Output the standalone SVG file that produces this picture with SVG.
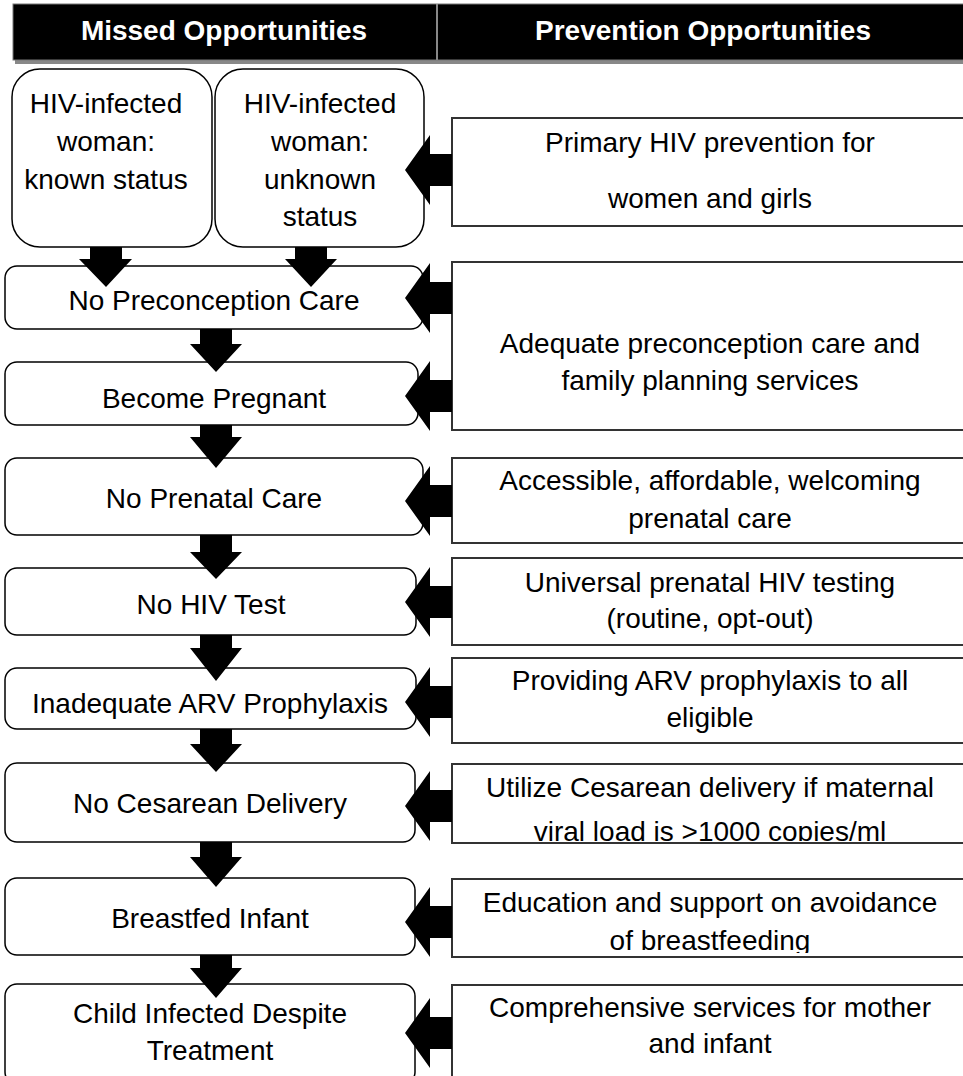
<svg xmlns="http://www.w3.org/2000/svg" width="963" height="1076" viewBox="0 0 963 1076">
<style>
.t{font-family:"Liberation Sans",Arial,sans-serif;font-size:28px;fill:#000;text-anchor:middle}
.h{font-family:"Liberation Sans",Arial,sans-serif;font-size:28px;font-weight:bold;fill:#fff;text-anchor:middle}
.lb{fill:#fff;stroke:#000;stroke-width:1.5}
.rb{fill:#fff;stroke:#333;stroke-width:2}
.ar{fill:#000}
</style>
<defs>
<clipPath id="cU"><rect x="452" y="764" width="520" height="77"/></clipPath>
<clipPath id="cE"><rect x="452" y="879" width="520" height="74"/></clipPath>
</defs>
<g id="header">
<rect x="15" y="7" width="950" height="57" fill="#888"/>
<rect x="13" y="4" width="952" height="56" fill="#000" stroke="#777" stroke-width="1"/>
<line x1="437" y1="4" x2="437" y2="60" stroke="#888" stroke-width="2"/>
<text class="h" x="224" y="40">Missed Opportunities</text>
<text class="h" x="703" y="40">Prevention Opportunities</text>
</g>
<g id="n-known">
<rect class="lb" x="12" y="69" width="200" height="178" rx="28"/>
<text class="t" x="106" y="113">HIV-infected</text>
<text class="t" x="106" y="151">woman:</text>
<text class="t" x="106" y="189">known status</text>
</g>
<g id="n-unknown">
<rect class="lb" x="215" y="69" width="209" height="178" rx="28"/>
<text class="t" x="320" y="113">HIV-infected</text>
<text class="t" x="320" y="151">woman:</text>
<text class="t" x="320" y="189">unknown</text>
<text class="t" x="320" y="226">status</text>
</g>
<g id="n-precon">
<rect class="lb" x="5" y="266" width="418" height="63" rx="12"/>
<text class="t" x="214" y="310">No Preconception Care</text>
</g>
<g id="n-pregnant">
<rect class="lb" x="5" y="362" width="413" height="63" rx="12"/>
<text class="t" x="214" y="408">Become Pregnant</text>
</g>
<g id="n-prenatal">
<rect class="lb" x="5" y="458" width="418" height="77" rx="12"/>
<text class="t" x="214" y="508">No Prenatal Care</text>
</g>
<g id="n-hivtest">
<rect class="lb" x="5" y="568" width="411" height="67" rx="12"/>
<text class="t" x="211" y="614">No HIV Test</text>
</g>
<g id="n-arv">
<rect class="lb" x="5" y="668" width="411" height="61" rx="12"/>
<text class="t" x="210" y="713">Inadequate ARV Prophylaxis</text>
</g>
<g id="n-cesarean">
<rect class="lb" x="5" y="763" width="410" height="79" rx="12"/>
<text class="t" x="210" y="813">No Cesarean Delivery</text>
</g>
<g id="n-breastfed">
<rect class="lb" x="5" y="878" width="410" height="77" rx="12"/>
<text class="t" x="210" y="928">Breastfed Infant</text>
</g>
<g id="n-child">
<rect class="lb" x="5" y="984" width="410" height="100" rx="12"/>
<text class="t" x="210" y="1023">Child Infected Despite</text>
<text class="t" x="210" y="1060">Treatment</text>
</g>
<g id="p-primary">
<rect class="rb" x="452" y="118" width="520" height="108"/>
<text class="t" x="710" y="152">Primary HIV prevention for</text>
<text class="t" x="710" y="208">women and girls</text>
</g>
<g id="p-adequate">
<rect class="rb" x="452" y="262" width="520" height="168"/>
<text class="t" x="710" y="353">Adequate preconception care and</text>
<text class="t" x="710" y="390">family planning services</text>
</g>
<g id="p-accessible">
<rect class="rb" x="452" y="458" width="520" height="85"/>
<text class="t" x="710" y="490">Accessible, affordable, welcoming</text>
<text class="t" x="710" y="528">prenatal care</text>
</g>
<g id="p-universal">
<rect class="rb" x="452" y="558" width="520" height="87"/>
<text class="t" x="710" y="592">Universal prenatal HIV testing</text>
<text class="t" x="710" y="628">(routine, opt-out)</text>
</g>
<g id="p-providing">
<rect class="rb" x="452" y="658" width="520" height="85"/>
<text class="t" x="710" y="690">Providing ARV prophylaxis to all</text>
<text class="t" x="710" y="727">eligible</text>
</g>
<g id="p-utilize">
<rect class="rb" x="452" y="764" width="520" height="79"/>
<g clip-path="url(#cU)">
<text class="t" x="710" y="797">Utilize Cesarean delivery if maternal</text>
<text class="t" x="710" y="841">viral load is &gt;1000 copies/ml</text>
</g>
</g>
<g id="p-education">
<rect class="rb" x="452" y="879" width="520" height="78"/>
<g clip-path="url(#cE)">
<text class="t" x="710" y="912">Education and support on avoidance</text>
<text class="t" x="710" y="950">of breastfeeding</text>
</g>
</g>
<g id="p-comprehensive">
<rect class="rb" x="452" y="985" width="520" height="100"/>
<text class="t" x="710" y="1017">Comprehensive services for mother</text>
<text class="t" x="710" y="1053">and infant</text>
</g>
<g id="connectors">
<polygon class="ar" points="90,247 122,247 122,259 132,259 106,287 79,259 90,259"/>
<polygon class="ar" points="295,247 327,247 327,259 337,259 311,287 285,259 295,259"/>
<polygon class="ar" points="200,329 232,329 232,344 242,344 216,372 190,344 200,344"/>
<polygon class="ar" points="200,425 232,425 232,437 242,437 216,468 190,437 200,437"/>
<polygon class="ar" points="200,535 232,535 232,552 242,552 216,579 190,552 200,552"/>
<polygon class="ar" points="200,635 232,635 232,648 242,648 216,681 190,648 200,648"/>
<polygon class="ar" points="200,729 232,729 232,744 242,744 216,772 190,744 200,744"/>
<polygon class="ar" points="200,842 232,842 232,857 242,857 216,887 190,857 200,857"/>
<polygon class="ar" points="200,955 232,955 232,968 242,968 216,998 190,968 200,968"/>
<polygon class="ar" points="452,154 430,154 430,135 405,170 430,205 430,186 452,186"/>
<polygon class="ar" points="452,282 430,282 430,263 405,298 430,333 430,314 452,314"/>
<polygon class="ar" points="452,380 430,380 430,361 405,396 430,431 430,412 452,412"/>
<polygon class="ar" points="452,485 430,485 430,466 405,501 430,536 430,517 452,517"/>
<polygon class="ar" points="452,586 430,586 430,567 405,602 430,637 430,618 452,618"/>
<polygon class="ar" points="452,686 430,686 430,667 405,702 430,737 430,718 452,718"/>
<polygon class="ar" points="452,790 430,790 430,771 405,806 430,841 430,822 452,822"/>
<polygon class="ar" points="452,906 430,906 430,887 405,922 430,957 430,938 452,938"/>
<polygon class="ar" points="452,1017 430,1017 430,998 405,1033 430,1068 430,1049 452,1049"/>
</g>
</svg>
